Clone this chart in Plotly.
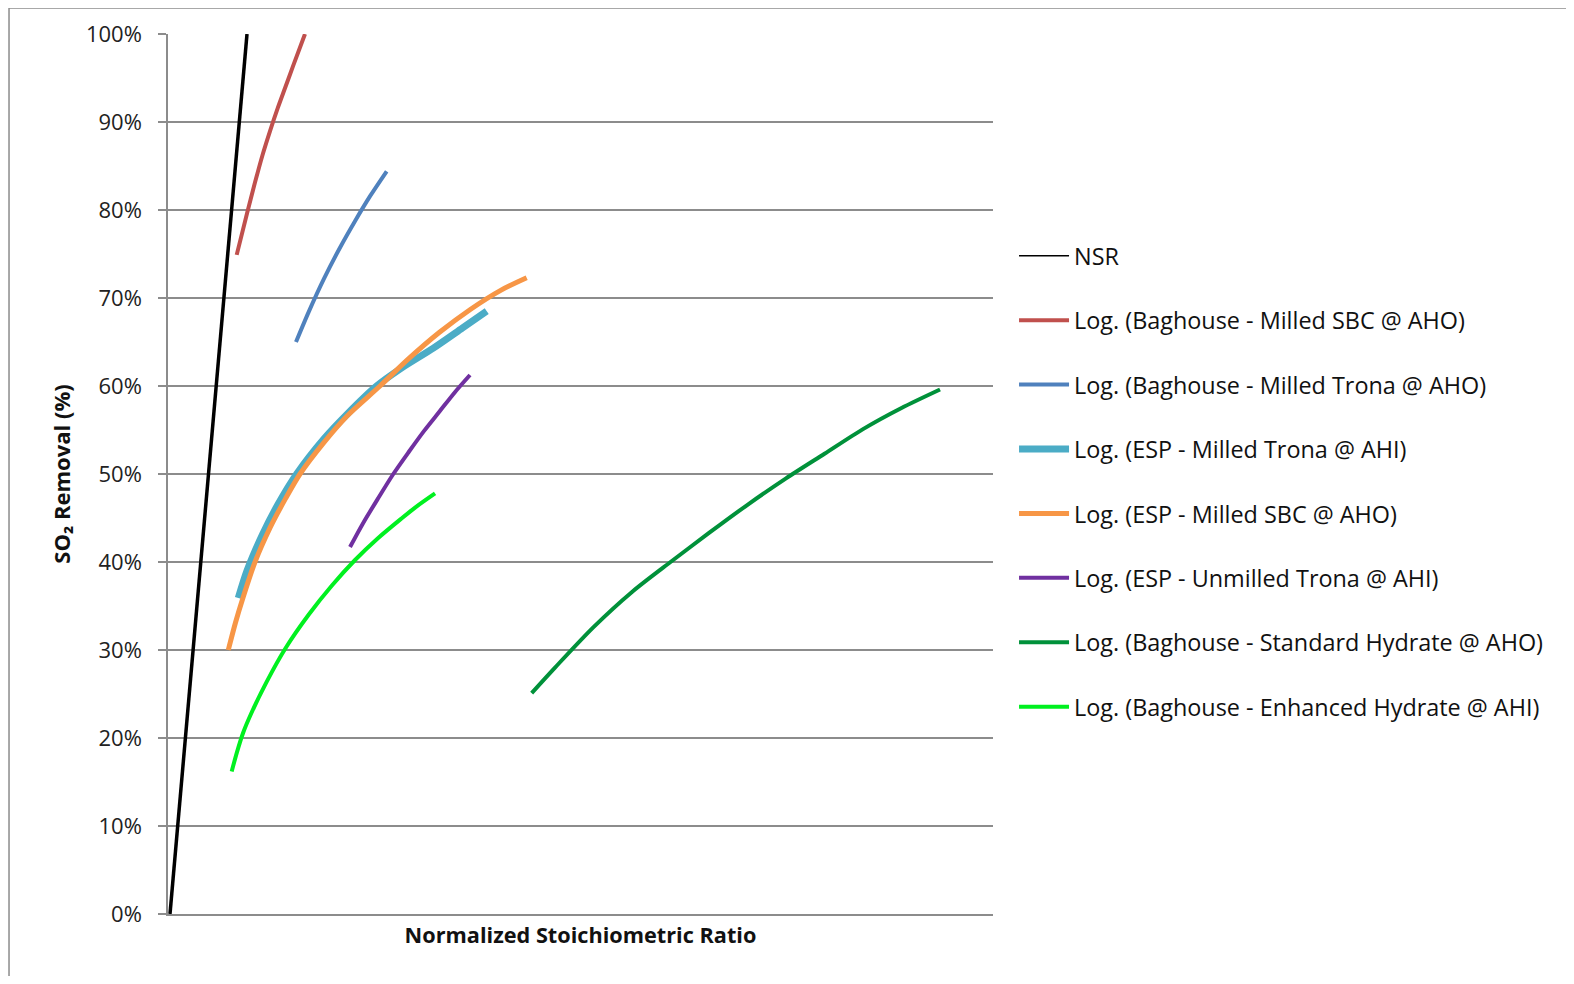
import plotly.graph_objects as go

# ---- data (x: normalized stoichiometric ratio, y: SO2 removal in %) ----
nsr_x = [0.0, 1.0]
nsr_y = [0.0, 100.0]

bh_sbc_x = [0.866, 1.0, 1.1, 1.2, 1.3, 1.4, 1.5, 1.6, 1.753]
bh_sbc_y = [74.9, 79.6, 83.0, 86.2, 89.0, 91.6, 94.0, 96.4, 100.0]

bh_trona_x = [1.636, 1.8, 2.0, 2.2, 2.4, 2.6, 2.814]
bh_trona_y = [65.0, 68.4, 72.2, 75.6, 78.7, 81.6, 84.4]

esp_trona_x = [0.887, 1.0, 1.2, 1.4, 1.645, 2.0, 2.3, 2.684, 3.0, 3.42, 3.8, 4.113]
esp_trona_y = [35.9, 39.0, 43.1, 46.5, 50.0, 54.0, 56.8, 60.0, 62.0, 64.3, 66.6, 68.5]

esp_sbc_x = [0.757, 0.85, 0.95, 1.104, 1.3, 1.5, 1.688, 2.0, 2.3, 2.727, 3.1, 3.5, 3.9, 4.3, 4.632]
esp_sbc_y = [30.0, 33.1, 36.0, 40.0, 43.9, 47.2, 50.0, 53.6, 56.6, 60.0, 63.1, 66.1, 68.7, 70.9, 72.3]

esp_unmilled_x = [2.338, 2.5, 2.7, 2.9, 3.1, 3.3, 3.5, 3.7, 3.896]
esp_unmilled_y = [41.7, 44.3, 47.2, 50.0, 52.5, 54.9, 57.1, 59.3, 61.25]

bh_std_x = [4.697, 5.0, 5.5, 6.0, 6.5, 7.0, 7.5, 8.0, 8.5, 9.0, 9.5, 10.0]
bh_std_y = [25.1, 28.0, 32.6, 36.6, 40.0, 43.3, 46.5, 49.5, 52.3, 55.1, 57.5, 59.6]

bh_enh_x = [0.801, 0.87, 0.95, 1.05, 1.25, 1.5, 1.8, 2.1, 2.4, 2.7, 3.0, 3.2, 3.442]
bh_enh_y = [16.2, 18.4, 20.6, 22.7, 26.3, 30.2, 34.0, 37.3, 40.2, 42.7, 44.9, 46.3, 47.8]

names = [
    "NSR",
    "Log. (Baghouse - Milled SBC @ AHO)",
    "Log. (Baghouse - Milled Trona @ AHO)",
    "Log. (ESP - Milled Trona @ AHI)",
    "Log. (ESP - Milled SBC @ AHO)",
    "Log. (ESP - Unmilled Trona @ AHI)",
    "Log. (Baghouse - Standard Hydrate @ AHO)",
    "Log. (Baghouse - Enhanced Hydrate @ AHI)",
]
y_ticks = [0, 10, 20, 30, 40, 50, 60, 70, 80, 90, 100]
y_tick_text = ["0%", "10%", "20%", "30%", "40%", "50%", "60%", "70%", "80%", "90%", "100%"]

series = [
    (nsr_x, nsr_y, "#000000", 3.5),
    (bh_sbc_x, bh_sbc_y, "#C0504D", 4.0),
    (bh_trona_x, bh_trona_y, "#4F81BD", 4.0),
    (esp_trona_x, esp_trona_y, "#4BACC6", 7.0),
    (esp_sbc_x, esp_sbc_y, "#F79646", 5.0),
    (esp_unmilled_x, esp_unmilled_y, "#7030A0", 4.0),
    (bh_std_x, bh_std_y, "#00913A", 4.0),
    (bh_enh_x, bh_enh_y, "#00F020", 4.0),
]

fig = go.Figure()
for i, (xs, ys, col, w) in enumerate(series):
    if i == 0:
        # NSR: thick line in the plot, thin line in the legend
        fig.add_trace(go.Scatter(
            x=xs, y=ys, mode="lines", name=names[i], legendgroup=f"g{i}",
            showlegend=False, line=dict(color=col, width=w),
        ))
        fig.add_trace(go.Scatter(
            x=[None], y=[None], mode="lines", name=names[i], legendgroup=f"g{i}",
            line=dict(color=col, width=1.5),
        ))
    else:
        fig.add_trace(go.Scatter(
            x=xs, y=ys, mode="lines", name=names[i], legendgroup=f"g{i}",
            line=dict(color=col, width=w, shape="spline", smoothing=0.8),
        ))

FONT = "'Open Sans', sans-serif"

fig.update_layout(
    width=1558, height=968,
    margin=dict(l=160, r=573, t=26, b=62, autoexpand=False),
    paper_bgcolor="white", plot_bgcolor="white",
    font=dict(family=FONT, size=20, color="#222222"),
    showlegend=True,
    legend=dict(
        x=1.0255, xanchor="left", y=0.7727, yanchor="top",
        font=dict(family=FONT, size=23.4, color="#111111"),
        tracegroupgap=31, bgcolor="rgba(0,0,0,0)", itemwidth=50,
    ),
    xaxis=dict(
        range=[-0.026, 10.688], showticklabels=False, showgrid=False, automargin=False,
        zeroline=False, ticks="", showline=True, linecolor="#8c8c8c", linewidth=1.5,
        title=dict(text="<b>Normalized Stoichiometric Ratio</b>",
                   font=dict(family=FONT, size=21.7, color="#111111"), standoff=13),
    ),
    yaxis=dict(
        range=[0, 100], tickmode="array", tickvals=y_ticks, ticktext=y_tick_text,
        automargin=False,
        showgrid=True, gridcolor="#8c8c8c", gridwidth=1.5,
        zeroline=False, showline=True, linecolor="#8c8c8c", linewidth=1.5,
        ticks="outside", ticklen=8, tickcolor="#8c8c8c", tickwidth=1.5,
        ticklabelstandoff=12,
        tickfont=dict(family=FONT, size=22, color="#222222"),
        title=dict(text="<b>SO₂ Removal (%)</b>",
                   font=dict(family=FONT, size=22, color="#111111"), standoff=9),
    ),
    shapes=[dict(type="rect", xref="paper", yref="paper",
                 x0=-0.1927, y0=-0.2, x1=1.9, y1=1.0295,
                 line=dict(color="#8c8c8c", width=1.5), fillcolor="rgba(0,0,0,0)",
                 layer="below")],
)

fig.write_html("out.html")
